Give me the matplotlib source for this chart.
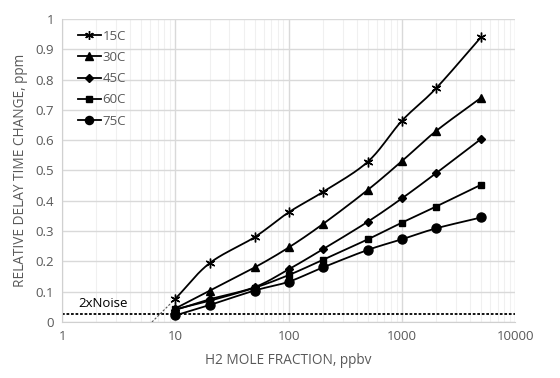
# H2 mole fraction vs relative delay time change (log x)
import numpy as np
import matplotlib.pyplot as plt
from matplotlib.ticker import FixedLocator, LogLocator, NullFormatter

plt.rcParams['font.family'] = ['Open Sans', 'DejaVu Sans']

# ===== data =====
h2_ppbv = [10, 20, 50, 100, 200, 500, 1000, 2000, 5000]
labels = ["15C", "30C", "45C", "60C", "75C"]
delay_15c = [0.077, 0.194, 0.280, 0.362, 0.429, 0.529, 0.664, 0.771, 0.940]
delay_30c = [0.045, 0.103, 0.180, 0.246, 0.323, 0.436, 0.531, 0.630, 0.740]
delay_45c = [0.040, 0.075, 0.115, 0.174, 0.240, 0.331, 0.408, 0.491, 0.604]
delay_60c = [0.042, 0.070, 0.113, 0.155, 0.205, 0.273, 0.328, 0.381, 0.453]
delay_75c = [0.022, 0.056, 0.104, 0.133, 0.180, 0.238, 0.273, 0.309, 0.345]
noise_level = 0.025
trend_x = [6.2, 10]
trend_y = [0.0, 0.077]
# ================

markers = [(6, 2, 0), "^", "D", "s", "o"]
msizes = [7, 6, 4.5, 5, 6.5]
series = [delay_15c, delay_30c, delay_45c, delay_60c, delay_75c]


def smooth(x, y, n=20):
    # Excel-style smoothed line (Catmull-Rom in log-x space)
    lx = np.log10(x)
    y = np.asarray(y, float)
    px = np.concatenate([[2 * lx[0] - lx[1]], lx, [2 * lx[-1] - lx[-2]]])
    py = np.concatenate([[2 * y[0] - y[1]], y, [2 * y[-1] - y[-2]]])
    out_x, out_y = [], []
    t = np.linspace(0, 1, n)
    for i in range(1, len(px) - 2):
        for arr, out in ((px, out_x), (py, out_y)):
            p0, p1, p2, p3 = arr[i - 1], arr[i], arr[i + 1], arr[i + 2]
            seg = 0.5 * ((2 * p1) + (-p0 + p2) * t
                         + (2 * p0 - 5 * p1 + 4 * p2 - p3) * t ** 2
                         + (-p0 + 3 * p1 - 3 * p2 + p3) * t ** 3)
            out.extend(seg)
    return 10 ** np.array(out_x), np.array(out_y)


fig = plt.figure(figsize=(5.6, 3.78), dpi=100)
ax = fig.add_axes([0.111, 0.148, 0.809, 0.802])

for lab, vals, m, ms in zip(labels, series, markers, msizes):
    sx, sy = smooth(h2_ppbv, vals)
    ax.plot(sx, sy, color="black", lw=1.3, zorder=3)
    ax.plot(h2_ppbv, vals, linestyle="none", marker=m, ms=ms, color="black",
            mew=1.0, zorder=4)
    ax.plot([], [], color="black", lw=1.3, marker=m, ms=ms * 0.9, mew=1.0, label=lab)

ax.plot(trend_x, trend_y, color="#555555", lw=0.8, linestyle=(0, (2, 1.5)), zorder=2)
ax.axhline(noise_level, color="black", lw=1.3, linestyle=(0, (1.5, 1)), zorder=2)
ax.text(1.38, 0.062, "2xNoise", fontsize=9.5, color="black", va="center")

ax.set_xscale("log")
ax.set_xlim(1, 10000)
ax.set_ylim(0, 1)
ax.xaxis.set_major_locator(FixedLocator([1, 10, 100, 1000, 10000]))
ax.set_xticklabels(["1", "10", "100", "1000", "10000"])
ax.xaxis.set_minor_locator(LogLocator(base=10, subs=np.arange(2, 10)))
ax.xaxis.set_minor_formatter(NullFormatter())
ax.set_yticks(np.arange(0, 1.01, 0.1))
ax.set_yticklabels(["0", "0.1", "0.2", "0.3", "0.4", "0.5", "0.6", "0.7", "0.8", "0.9", "1"])

ax.grid(True, which="major", color="#d9d9d9", lw=1.0)
ax.grid(True, which="minor", axis="x", color="#f0f0f0", lw=0.8)
ax.set_axisbelow(True)
for side in ["top", "right"]:
    ax.spines[side].set_visible(False)
for side in ["left", "bottom"]:
    ax.spines[side].set_color("#d0d0d0")
ax.tick_params(which="both", length=0, colors="#595959", labelsize=9.5, pad=6)

ax.set_xlabel("H2 MOLE FRACTION, ppbv", color="#595959", fontsize=9.8, labelpad=7)
ax.set_ylabel("RELATIVE DELAY TIME CHANGE, ppm", color="#595959", fontsize=9.8, labelpad=5)

leg = ax.legend(loc="upper left", bbox_to_anchor=(0.018, 0.99), frameon=False,
                fontsize=9.5, handlelength=1.7, handletextpad=0.15, labelspacing=0.62,
                borderaxespad=0.2)
for t in leg.get_texts():
    t.set_color("#595959")

fig.savefig("out.png", dpi=100)
